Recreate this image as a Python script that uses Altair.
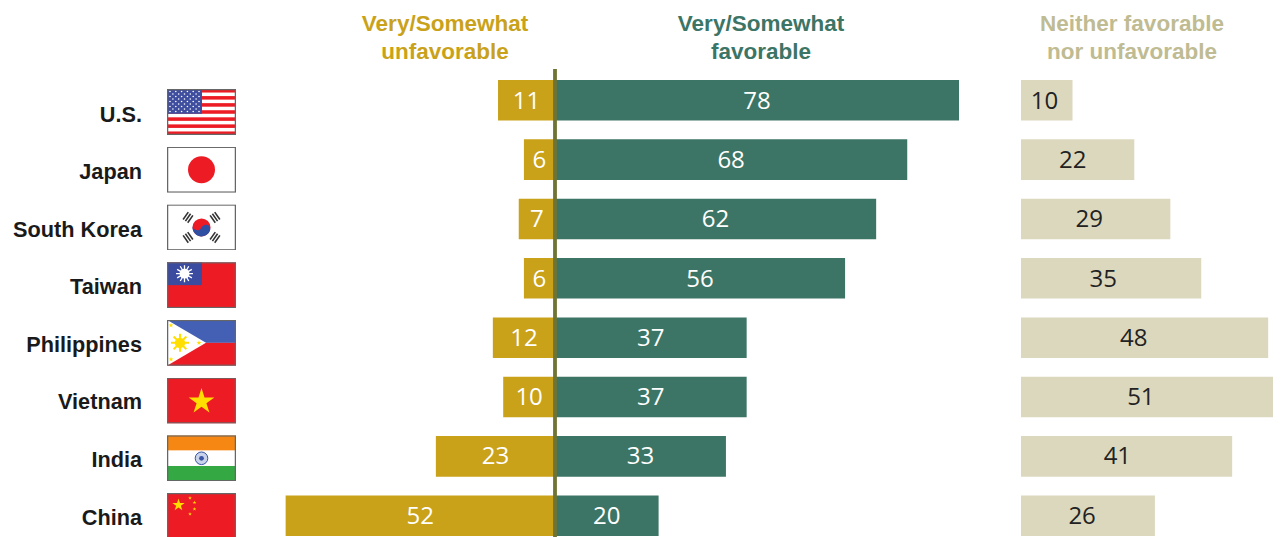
import base64, math
import altair as alt
import pandas as pd

countries = ["U.S.", "Japan", "South Korea", "Taiwan", "Philippines", "Vietnam", "India", "China"]
unfavorable = [11, 6, 7, 6, 12, 10, 23, 52]
favorable = [78, 68, 62, 56, 37, 37, 33, 20]
neither = [10, 22, 29, 35, 48, 51, 41, 26]

GOLD = "#C9A21A"; GREEN = "#3C7565"; BEIGE = "#DCD8BE"; BEIGE_TXT = "#BFBB92"
RED = "#ED1C24"; YEL = "#FFDE00"; BLUE = "#3A4BA0"
FONT = "Open Sans"
BOLD = "Liberation Sans"

def star(cx, cy, r, fill, rot=-90):
    pts = []
    for i in range(10):
        rr = r if i % 2 == 0 else r * 0.382
        a = math.radians(rot + 36 * i)
        pts.append(f"{cx + rr * math.cos(a):.2f},{cy + rr * math.sin(a):.2f}")
    return f'<polygon points="{" ".join(pts)}" fill="{fill}"/>'

def sun(cx, cy, r, fill, n, w=1.3):
    s = ""
    for i in range(n):
        a = 2 * math.pi * i / n
        s += (f'<line x1="{cx}" y1="{cy}" x2="{cx + r * math.cos(a):.2f}" y2="{cy + r * math.sin(a):.2f}" '
              f'stroke="{fill}" stroke-width="{w}"/>')
    return s + f'<circle cx="{cx}" cy="{cy}" r="{r * 0.58:.2f}" fill="{fill}"/>'

def flag_us():
    s = f'<rect width="69" height="46" fill="#fff"/>'
    for i in range(0, 13, 2):
        s += f'<rect y="{i * 46 / 13:.2f}" width="69" height="{46 / 13:.2f}" fill="{RED}"/>'
    s += '<rect width="35" height="24.8" fill="#3F4E9F"/>'
    for row in range(9):
        n = 6 if row % 2 == 0 else 5
        for c in range(n):
            x = (3 + c * 5.8) if row % 2 == 0 else (5.9 + c * 5.8)
            s += f'<circle cx="{x:.1f}" cy="{2.5 + row * 2.5:.1f}" r="0.8" fill="#fff"/>'
    return s

def flag_jp():
    return f'<rect width="69" height="46" fill="#fff"/><circle cx="34.5" cy="23" r="13.5" fill="{RED}"/>'

def flag_kr():
    s = '<rect width="69" height="46" fill="#fff"/>'
    s += f'<circle cx="34.5" cy="23" r="9" fill="{RED}"/>'
    s += ('<path d="M25.7 21 A4.6 4.6 0 0 0 34.5 23 A4.6 4.6 0 0 1 43.3 25 A9 9 0 0 1 25.7 21 Z" fill="#2F4FA2"/>')
    for cx, cy, a in [(21, 13, -55), (48, 13, 55), (21, 33, 55), (48, 33, -55)]:
        for d in (-2.8, 0, 2.8):
            s += (f'<rect x="-4.5" y="{d - 0.8}" width="9" height="1.6" fill="#333" '
                  f'transform="translate({cx} {cy}) rotate({a})"/>')
    return s

def flag_tw():
    return (f'<rect width="69" height="46" fill="{RED}"/><rect width="35" height="23" fill="{BLUE}"/>'
            + sun(17.5, 11.5, 8.5, "#fff", 12))

def flag_ph():
    s = f'<rect width="69" height="23" fill="#4460B4"/><rect y="23" width="69" height="23" fill="{RED}"/>'
    s += '<polygon points="0,0 39,23 0,46" fill="#fff"/>'
    s += sun(13, 23, 9, YEL, 8, 2)
    s += star(4, 5.5, 2.6, YEL) + star(4, 39.5, 2.6, YEL) + star(32, 23, 2.6, YEL)
    return s

def flag_vn():
    return f'<rect width="69" height="46" fill="{RED}"/>' + star(34.5, 24, 13.5, YEL)

def flag_in():
    s = '<rect width="69" height="15.3" fill="#F68712"/><rect y="15.3" width="69" height="15.4" fill="#fff"/>'
    s += '<rect y="30.7" width="69" height="15.3" fill="#33A843"/>'
    s += '<circle cx="34.5" cy="23" r="6.3" fill="#C9D3EA" stroke="#3A55A4" stroke-width="1"/>'
    s += '<circle cx="34.5" cy="23" r="2.4" fill="#3A55A4"/>'
    return s

def flag_cn():
    s = f'<rect width="69" height="46" fill="{RED}"/>' + star(11.5, 12, 6.5, YEL)
    for x, y in [(23, 5), (27.5, 9.5), (27.5, 16), (23, 21)]:
        s += star(x, y, 2, YEL)
    return s

def uri(body):
    svg = (f'<svg xmlns="http://www.w3.org/2000/svg" width="69" height="46" viewBox="0 0 69 46">{body}'
           '<rect x="0.6" y="0.6" width="67.8" height="44.8" fill="none" stroke="#666" stroke-width="1.3"/></svg>')
    return "data:image/svg+xml;base64," + base64.b64encode(svg.encode()).decode()

flags = [uri(f()) for f in (flag_us, flag_jp, flag_kr, flag_tw, flag_ph, flag_vn, flag_in, flag_cn)]

df = pd.DataFrame({"country": countries, "unf": unfavorable, "fav": favorable, "nei": neither, "flag": flags})
base = alt.Chart(df)

bar_y = alt.Y("country:N", axis=None, sort=countries,
              scale=alt.Scale(domain=countries, range=[72, 528], paddingInner=0.316, paddingOuter=0))
txt_y = alt.Y("country:N", axis=None, sort=countries,
              scale=alt.Scale(type="point", domain=countries, range=[94, 508.5], padding=0))
lab_y = alt.Y("country:N", axis=None, sort=countries,
              scale=alt.Scale(type="point", domain=countries, range=[106.5, 509.5], padding=0))
flag_y = alt.Y("country:N", axis=None, sort=countries,
               scale=alt.Scale(type="point", domain=countries, range=[104, 508], padding=0))

fav_sc = alt.Scale(domain=[0, 100], range=[547, 1065])
unf_sc = alt.Scale(domain=[0, 100], range=[547, 29])
nei_sc = alt.Scale(domain=[0, 100], range=[1013, 1528])
nei_txt_sc = alt.Scale(domain=[0, 100], range=[1013, 1248])

val_txt = dict(font=FONT, fontSize=24, fontWeight=400, baseline="middle", align="center")

def X(f, sc):
    return alt.X(f, axis=None, scale=sc)

layers = [
    base.mark_bar(color=GOLD, clip=True).encode(x=X("unf:Q", unf_sc), y=bar_y),
    base.mark_bar(color=GREEN, clip=True).encode(x=X("fav:Q", fav_sc), y=bar_y),
    base.mark_bar(color=BEIGE, clip=True).encode(x=X("nei:Q", nei_sc), y=bar_y),
    base.transform_calculate(h="datum.unf/2").mark_text(color="#fff", **val_txt).encode(
        x=X("h:Q", unf_sc), y=txt_y, text="unf:Q"),
    base.transform_calculate(h="datum.fav/2").mark_text(color="#fff", **val_txt).encode(
        x=X("h:Q", fav_sc), y=txt_y, text="fav:Q"),
    base.mark_text(color="#222", **val_txt).encode(x=X("nei:Q", nei_txt_sc), y=txt_y, text="nei:Q"),
    base.mark_rule(color="#6F7434", strokeWidth=2.5).encode(
        x=alt.value(547), y=alt.value(61), y2=alt.value(529)),
    base.mark_text(font=BOLD, fontSize=21.7, fontWeight=700, color="#1a1a1a", align="right", baseline="middle").encode(
        x=alt.value(134), y=lab_y, text="country:N"),
    base.mark_image(width=69, height=46, align="center", baseline="middle").encode(
        x=alt.value(193.5), y=flag_y, url="flag:N"),
]

for lines, cx, col in [(["Very/Somewhat", "unfavorable"], 437, GOLD),
                       (["Very/Somewhat", "favorable"], 753, GREEN),
                       (["Neither favorable", "nor unfavorable"], 1124, BEIGE_TXT)]:
    layers.append(alt.Chart(alt.Data(values=[{"a": 1}])).mark_text(
        text=lines, x=cx, y=16, font=BOLD, fontSize=22.5, fontWeight=700, color=col,
        align="center", baseline="middle", lineHeight=28))

chart = alt.layer(*layers).resolve_scale(x="independent", y="independent").properties(
    width=1265, height=529, padding=0, autosize=alt.AutoSizeParams(type="none")
).configure_view(stroke=None)

chart.save("out.html", embed_options={"renderer": "svg", "actions": False})
